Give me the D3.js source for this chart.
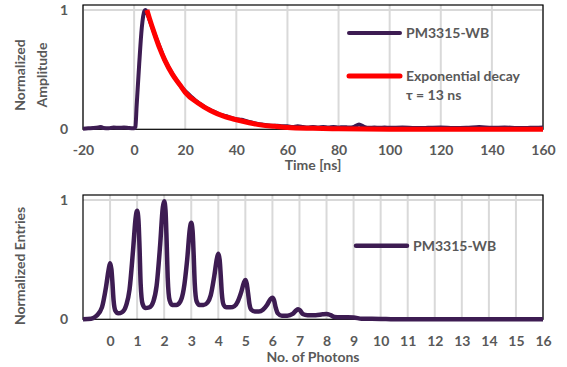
<!DOCTYPE html>
<html>
<head>
<meta charset="utf-8">
<script src="https://cdn.jsdelivr.net/npm/d3@7"></script>
<style>
  body { margin: 0; background: #fff; }
  svg text { font-family: Lato, "Open Sans", sans-serif; font-weight: bold; fill: #595959; }
</style>
</head>
<body>
<svg id="chart" width="567" height="367"></svg>
<script>
// top panel: pulse shape
var timeTicks = [-20, 0, 20, 40, 60, 80, 100, 120, 140, 160];
var pulseT = [-20, -18, -16, -14, -13, -12, -10, -8, -6, -4, -2, 0, 0.5, 1, 2, 3, 4, 4.5, 5, 6, 8, 10, 12, 14, 16, 18, 20,
  22, 24, 26, 28, 30, 32, 34, 36, 38, 40, 42, 44, 46, 48, 50, 52, 54, 56, 58, 60, 62, 64, 66, 68, 70, 72, 74,
  76, 78, 80, 82, 84, 86, 88, 90, 92, 94, 96, 98, 100, 105, 110, 115, 120, 125, 130, 135, 140, 145, 150, 155, 160];
var pulseV = [0.005, 0.008, 0.01, 0.015, 0.02, 0.01, 0.008, 0.015, 0.012, 0.015, 0.01, 0.008, 0.02, 0.2, 0.55, 0.85, 0.99, 1.0, 0.98, 0.92, 0.8,
  0.69, 0.58, 0.5, 0.43, 0.37, 0.32, 0.28, 0.24, 0.21, 0.18, 0.16, 0.14, 0.12, 0.11, 0.095, 0.085, 0.08, 0.068, 0.057,
  0.047, 0.04, 0.035, 0.03, 0.03, 0.025, 0.025, 0.02, 0.025, 0.02, 0.015, 0.02, 0.015, 0.02, 0.015, 0.02, 0.015,
  0.018, 0.015, 0.02, 0.04, 0.02, 0.012, 0.015, 0.012, 0.015, 0.012, 0.015, 0.01, 0.012, 0.015, 0.01, 0.012, 0.02,
  0.012, 0.015, 0.01, 0.012, 0.015, 0.012];
var fitT = [5, 6, 8, 10, 12, 15, 18, 20, 25, 30, 35, 40, 45, 50, 55, 60, 70, 80, 100, 130, 160];
var fitV = [1.0, 0.93, 0.8, 0.68, 0.58, 0.46, 0.37, 0.31, 0.22, 0.155, 0.11, 0.08, 0.055, 0.035, 0.025, 0.015, 0.008, 0.004, 0.001, 0, 0];

// bottom panel: photon spectrum
var photonTicks = [0, 1, 2, 3, 4, 5, 6, 7, 8, 9, 10, 11, 12, 13, 14, 15, 16];
var specN = [-1, -0.7, -0.5, -0.3, -0.15, -0.05, 0, 0.05, 0.09, 0.13, 0.2, 0.3, 0.45,
  0.6, 0.72, 0.85, 0.95, 1.0, 1.05, 1.09, 1.13, 1.2, 1.3, 1.45,
  1.6, 1.72, 1.85, 1.95, 2.0, 2.05, 2.09, 2.13, 2.2, 2.3, 2.45,
  2.6, 2.72, 2.85, 2.95, 3.0, 3.05, 3.09, 3.13, 3.2, 3.3, 3.45,
  3.6, 3.72, 3.85, 3.95, 4.0, 4.05, 4.09, 4.13, 4.2, 4.3, 4.45,
  4.6, 4.72, 4.85, 4.95, 5.0, 5.05, 5.1, 5.15, 5.22, 5.35, 5.5,
  5.65, 5.8, 5.93, 6.0, 6.06, 6.12, 6.2, 6.35, 6.55,
  6.75, 6.88, 6.95, 7.02, 7.12, 7.3, 7.6, 7.85, 8.0, 8.15, 8.3, 8.6, 9.0, 9.3, 10, 10.5, 12, 14, 16];
var specV = [0, 0.005, 0.03, 0.1, 0.27, 0.42, 0.47, 0.42, 0.3, 0.16, 0.07, 0.05, 0.06,
  0.12, 0.25, 0.58, 0.86, 0.91, 0.83, 0.6, 0.3, 0.13, 0.095, 0.1,
  0.15, 0.28, 0.62, 0.94, 0.99, 0.91, 0.66, 0.35, 0.16, 0.12, 0.12,
  0.15, 0.25, 0.5, 0.76, 0.81, 0.74, 0.54, 0.3, 0.15, 0.12, 0.12,
  0.14, 0.2, 0.36, 0.51, 0.55, 0.5, 0.37, 0.22, 0.12, 0.1, 0.1,
  0.11, 0.15, 0.23, 0.31, 0.33, 0.3, 0.22, 0.13, 0.08, 0.065, 0.065,
  0.08, 0.12, 0.17, 0.18, 0.16, 0.1, 0.05, 0.03, 0.03,
  0.045, 0.075, 0.085, 0.075, 0.045, 0.035, 0.035, 0.042, 0.045, 0.035, 0.02, 0.017, 0.015, 0.005, 0.003, 0, 0, 0, 0];

var purple = "#3d1c52";
var red = "#ff0000";
var grid = "#d9d9d9";

var svg = d3.select("#chart");

function panel(opt) {
  var x = d3.scaleLinear().domain(opt.xDomain).range([83, 543]);
  var y = d3.scaleLinear().domain([0, 1.042]).range([opt.y0, opt.y0 - 124.3]);
  var g = svg.append("g");

  // grid
  g.selectAll("line.vg").data(opt.xTicks).enter().append("line")
    .attr("x1", function(d) { return x(d); }).attr("x2", function(d) { return x(d); })
    .attr("y1", y(1.042)).attr("y2", y(0))
    .attr("stroke", grid).attr("stroke-width", 2);
  g.append("line").attr("x1", x.range()[0]).attr("x2", x.range()[1])
    .attr("y1", y(1)).attr("y2", y(1)).attr("stroke", grid).attr("stroke-width", 2);

  // frame
  g.append("rect").attr("x", x.range()[0]).attr("y", y(1.042))
    .attr("width", x.range()[1] - x.range()[0]).attr("height", y(0) - y(1.042))
    .attr("fill", "none").attr("stroke", "#000").attr("stroke-width", 1.2);

  // axes
  var xa = g.append("g").attr("transform", "translate(0," + y(0) + ")")
    .call(d3.axisBottom(x).tickValues(opt.xTicks).tickSize(0).tickFormat(function(d) { return String(d); }));
  xa.select(".domain").remove();
  xa.selectAll("text").attr("y", opt.tickY).attr("dy", null)
    .style("font-size", "14px").style("fill", "#595959")
    .style("font-family", "Lato, sans-serif").style("font-weight", "bold");

  var ya = g.append("g").attr("transform", "translate(" + x.range()[0] + ",0)")
    .call(d3.axisLeft(y).tickValues([0, 1]).tickSize(0).tickPadding(15).tickFormat(function(d) { return String(d); }));
  ya.select(".domain").remove();
  ya.selectAll("text").style("font-size", "14px").style("fill", "#595959")
    .style("font-family", "Lato, sans-serif").style("font-weight", "bold");

  g.append("text").attr("x", 313).attr("y", opt.titleY).attr("text-anchor", "middle")
    .style("font-size", "14px").text(opt.xTitle);

  opt.yTitle.forEach(function(t, k) {
    g.append("text").attr("text-anchor", "middle")
      .attr("transform", "translate(" + (25 + k * 22) + "," + opt.yTitleY + ") rotate(-90)")
      .style("font-size", "14px").text(t);
  });
  return { x: x, y: y, g: g };
}

// top
var p1 = panel({ xDomain: [-20, 160], xTicks: timeTicks, y0: 129.3, tickY: 26, titleY: 170,
  xTitle: "Time [ns]", yTitle: ["Normalized", "Amplitude"], yTitleY: 75 });

var line1 = d3.line().x(function(d) { return p1.x(d[0]); }).y(function(d) { return p1.y(d[1]); })
  .curve(d3.curveMonotoneX);
p1.g.append("path").datum(d3.zip(pulseT, pulseV)).attr("d", line1)
  .attr("fill", "none").attr("stroke", purple).attr("stroke-width", 4).attr("stroke-linejoin", "round");
p1.g.append("path").datum(d3.zip(fitT, fitV)).attr("d", line1)
  .attr("fill", "none").attr("stroke", red).attr("stroke-width", 5).attr("stroke-linejoin", "round");

// top legend
p1.g.append("line").attr("x1", 349).attr("x2", 400).attr("y1", 33).attr("y2", 33)
  .attr("stroke", purple).attr("stroke-width", 4).attr("stroke-linecap", "round");
p1.g.append("text").attr("x", 406).attr("y", 38).style("font-size", "14px").text("PM3315-WB");
p1.g.append("line").attr("x1", 349).attr("x2", 400).attr("y1", 76).attr("y2", 76)
  .attr("stroke", red).attr("stroke-width", 5).attr("stroke-linecap", "round");
p1.g.append("text").attr("x", 406).attr("y", 81).style("font-size", "14px").text("Exponential decay");
p1.g.append("text").attr("x", 406).attr("y", 100).style("font-size", "14px").text("\u03c4  = 13 ns");

// bottom
var p2 = panel({ xDomain: [-1, 16], xTicks: photonTicks, y0: 319.3, tickY: 27, titleY: 362,
  xTitle: "No. of Photons", yTitle: ["Normalized Entries"], yTitleY: 266 });

var line2 = d3.line().x(function(d) { return p2.x(d[0]); }).y(function(d) { return p2.y(d[1]); })
  .curve(d3.curveMonotoneX);
p2.g.append("path").datum(d3.zip(specN, specV)).attr("d", line2)
  .attr("fill", "none").attr("stroke", purple).attr("stroke-width", 4.5).attr("stroke-linejoin", "round");

p2.g.append("line").attr("x1", 356).attr("x2", 407).attr("y1", 245.7).attr("y2", 245.7)
  .attr("stroke", purple).attr("stroke-width", 4.5).attr("stroke-linecap", "round");
p2.g.append("text").attr("x", 413).attr("y", 251).style("font-size", "14px").text("PM3315-WB");
</script>
</body>
</html>
